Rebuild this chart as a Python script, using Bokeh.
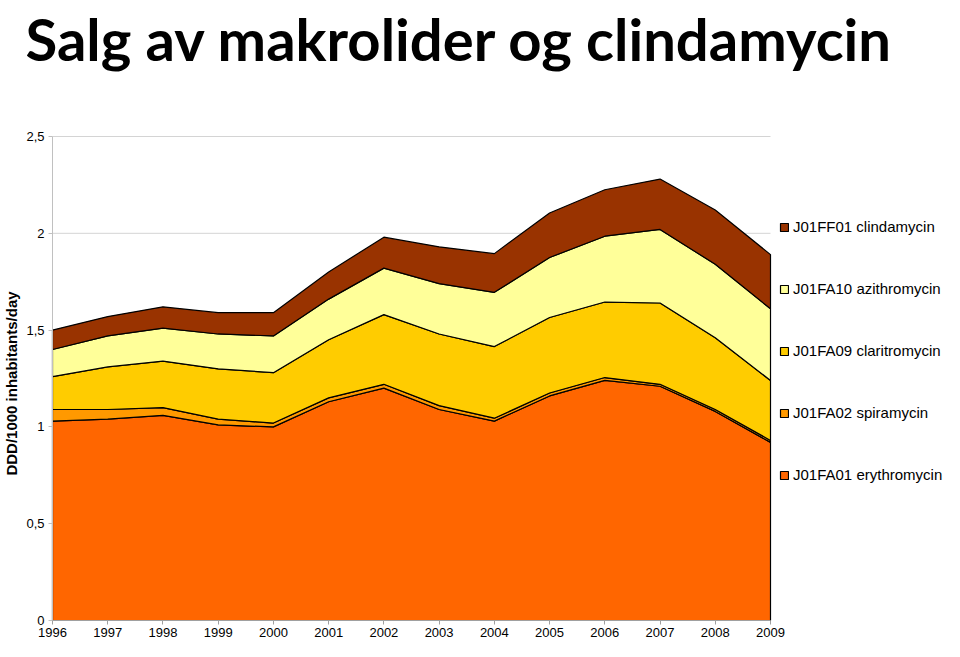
import numpy as np
from bokeh.plotting import figure
from bokeh.models import Legend, LegendItem, FixedTicker, Label, Range1d
from bokeh.embed import file_html
from bokeh.resources import INLINE

years = [1996, 1997, 1998, 1999, 2000, 2001, 2002, 2003, 2004, 2005, 2006, 2007, 2008, 2009]
erythromycin = [1.03, 1.04, 1.06, 1.01, 1.00, 1.13, 1.20, 1.09, 1.03, 1.16, 1.24, 1.21, 1.08, 0.92]
spiramycin = [0.06, 0.05, 0.04, 0.03, 0.02, 0.02, 0.02, 0.02, 0.015, 0.015, 0.015, 0.01, 0.01, 0.01]
claritromycin = [0.17, 0.22, 0.24, 0.26, 0.26, 0.30, 0.36, 0.37, 0.37, 0.39, 0.39, 0.42, 0.37, 0.31]
azithromycin = [0.14, 0.16, 0.17, 0.18, 0.19, 0.21, 0.24, 0.26, 0.28, 0.31, 0.34, 0.38, 0.38, 0.37]
clindamycin = [0.10, 0.10, 0.11, 0.11, 0.12, 0.14, 0.16, 0.19, 0.20, 0.23, 0.24, 0.26, 0.28, 0.28]

series_names = ["J01FA01 erythromycin", "J01FA02 spiramycin", "J01FA09 claritromycin",
                "J01FA10 azithromycin", "J01FF01 clindamycin"]
series_vals = [erythromycin, spiramycin, claritromycin, azithromycin, clindamycin]
colors = ["#FF6600", "#FF9900", "#FFCC00", "#FFFF99", "#993300"]
y_ticks = [0, 0.5, 1, 1.5, 2, 2.5]
y_tick_labels = ["0", "0,5", "1", "1,5", "2", "2,5"]
title_text = "Salg av makrolider og clindamycin"
y_title = "DDD/1000 inhabitants/day"

W, H = 944, 641
# pixel layout of the plotting area inside the canvas
PX_LEFT, PX_RIGHT, PX_TOP, PX_BOTTOM = 52, 770, 136, 620
x0, x1 = years[0], years[-1]
y0, y1 = y_ticks[0], y_ticks[-1]
sx = (PX_RIGHT - PX_LEFT) / (x1 - x0)
sy = (PX_BOTTOM - PX_TOP) / (y1 - y0)
xr = Range1d(x0 - PX_LEFT / sx, x1 + (W - PX_RIGHT) / sx)
yr = Range1d(y0 - (H - PX_BOTTOM) / sy, y1 + PX_TOP / sy)

p = figure(width=W, height=H, output_backend="svg", toolbar_location=None,
           x_range=xr, y_range=yr,
           min_border_left=0, min_border_right=0, min_border_top=0, min_border_bottom=0)
p.outline_line_color = None
p.xgrid.grid_line_color = None
p.ygrid.grid_line_color = None

# horizontal gridlines limited to the data span
p.segment(x0=[x0] * (len(y_ticks) - 1), x1=[x1] * (len(y_ticks) - 1),
          y0=y_ticks[1:], y1=y_ticks[1:], line_color="#d4d4d4", line_width=1)

x = np.array(years, dtype=float)
base = np.zeros(len(years))
renderers = []
for name, vals, c in zip(series_names, series_vals, colors):
    top = base + np.array(vals)
    xs = np.concatenate([x, x[::-1]])
    ys = np.concatenate([top, base[::-1]])
    r = p.patch(xs, ys, fill_color=c, line_color="black", line_width=1.2)
    renderers.append((name, r))
    base = top

items = [LegendItem(label=n, renderers=[r]) for n, r in reversed(renderers)]
legend = Legend(items=items, location=(779, 158), orientation="vertical",
                glyph_width=10, glyph_height=10, spacing=45, padding=0, margin=0,
                label_text_font="Liberation Sans", label_text_font_size="15px",
                label_text_color="black",
                label_standoff=4, border_line_color=None, background_fill_alpha=0)
p.add_layout(legend, "center")

p.xaxis.fixed_location = y0
p.xaxis.bounds = (x0, x1)
p.xaxis.ticker = FixedTicker(ticks=years)
p.xaxis.major_label_text_font = "Liberation Sans"
p.xaxis.major_label_text_font_size = "13px"
p.xaxis.major_label_text_color = "black"
p.xaxis.axis_line_color = "#a0a0a0"
p.xaxis.major_tick_line_color = "#a0a0a0"
p.xaxis.major_tick_out = 4
p.xaxis.major_tick_in = 0
p.xaxis.minor_tick_line_color = None
p.xaxis.major_label_standoff = 3

p.yaxis.fixed_location = x0
p.yaxis.bounds = (y0, y1)
p.yaxis.ticker = FixedTicker(ticks=y_ticks)
p.yaxis.major_label_overrides = {t: l for t, l in zip(y_ticks, y_tick_labels)}
p.yaxis.major_label_text_font = "Liberation Sans"
p.yaxis.major_label_text_font_size = "13px"
p.yaxis.major_label_text_color = "black"
p.yaxis.axis_line_color = "#c0c0c0"
p.yaxis.major_tick_line_color = "#c0c0c0"
p.yaxis.major_tick_out = 4
p.yaxis.major_tick_in = 0
p.yaxis.minor_tick_line_color = None
p.yaxis.major_label_standoff = 4

ylab = Label(x=11, y=H - 383, x_units="screen", y_units="screen", text=y_title,
             angle=np.pi / 2, text_align="center", text_baseline="middle",
             text_font="Liberation Sans", text_font_style="bold", text_font_size="15px",
             text_color="black")
p.add_layout(ylab)

title = Label(x=25, y=H - 38, x_units="screen", y_units="screen",
              text=title_text, text_font="Lato",
              text_font_style="bold", text_font_size="58px", text_color="black",
              text_baseline="alphabetic", text_align="left")
p.add_layout(title)

open("out.html", "w").write(file_html(p, INLINE))
